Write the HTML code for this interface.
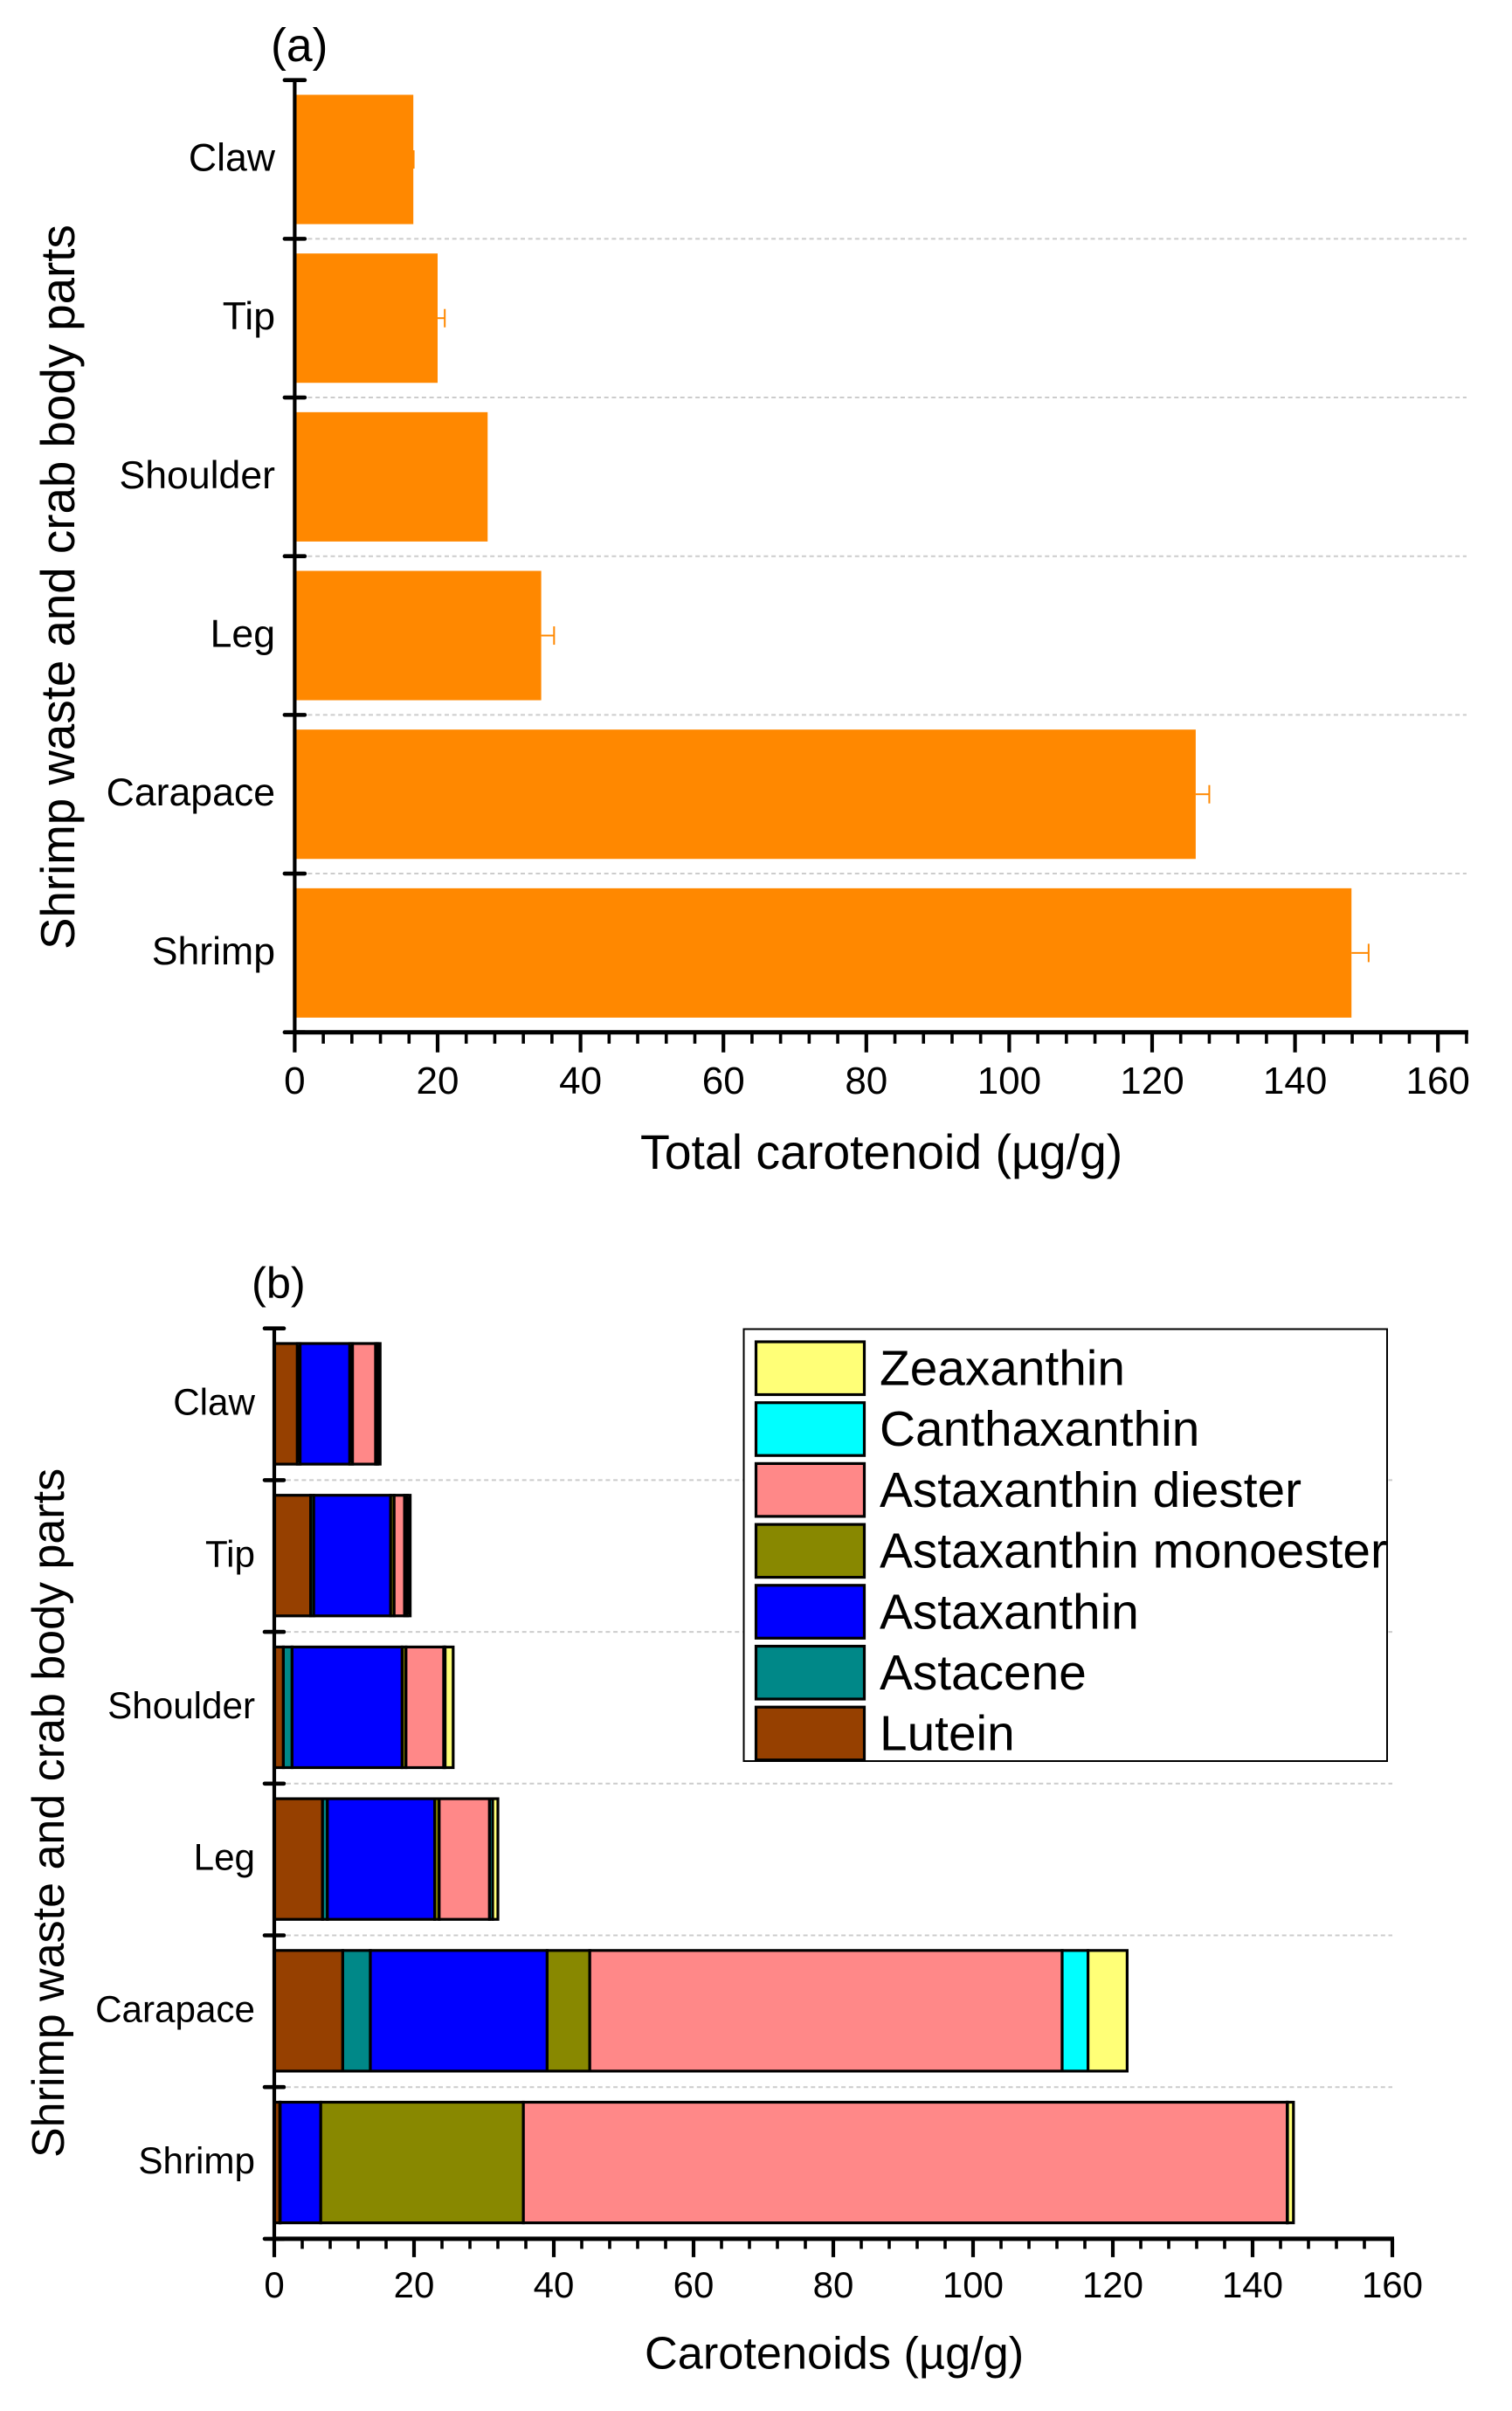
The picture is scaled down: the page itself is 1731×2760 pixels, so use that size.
<!DOCTYPE html>
<html lang="en">
<head>
<meta charset="utf-8">
<title>Carotenoids in shrimp waste and crab body parts</title>
<style>
html,body{margin:0;padding:0;background:#fff;}
svg{display:block;}
text{font-family:"Liberation Sans",Arial,sans-serif;fill:#000;}
</style>
</head>
<body>
<svg id="figure" xmlns="http://www.w3.org/2000/svg" width="1731" height="2760" viewBox="0 0 1731 2760"></svg>
<script>
// Shared data
const categories = ['Claw', 'Tip', 'Shoulder', 'Leg', 'Carapace', 'Shrimp'];
const xTickLabels = [0, 20, 40, 60, 80, 100, 120, 140, 160];

// Panel (a)
const totalCarotenoid = [16.6, 20.0, 27.0, 34.5, 126.1, 147.9];
const totalError = [0.05, 1.0, 0, 1.8, 1.9, 2.4];

// Panel (b) series, bottom of the stack first
const lutein = [3.3, 5.2, 1.3, 6.9, 9.8, 0.8];
const astacene = [0.4, 0.45, 1.25, 0.7, 3.95, 0.05];
const astaxanthin = [7.1, 11.0, 15.75, 15.35, 25.3, 5.8];
const monoester = [0.4, 0.5, 0.55, 0.65, 6.1, 29.0];
const diester = [3.3, 1.5, 5.4, 7.2, 67.6, 109.3];
const canthaxanthin = [0.3, 0.4, 0.2, 0.45, 3.7, 0.05];
const zeaxanthin = [0.35, 0.4, 1.15, 0.75, 5.6, 0.85];

const stackNames = ['Lutein', 'Astacene', 'Astaxanthin', 'Astaxanthin monoester', 'Astaxanthin diester', 'Canthaxanthin', 'Zeaxanthin'];
const stackSeries = [lutein, astacene, astaxanthin, monoester, diester, canthaxanthin, zeaxanthin];
const stackColors = ['#964000', '#008888', '#0000FF', '#888800', '#FF8888', '#00FFFF', '#FFFF77'];
const legendOrder = [6, 5, 4, 3, 2, 1, 0];

const svg = document.getElementById('figure');
const NS = 'http://www.w3.org/2000/svg';

function make(tag, props, parent, content) {
  const node = document.createElementNS(NS, tag);
  for (const k in props) node.setAttribute(k, props[k]);
  if (content !== undefined) node.textContent = content;
  (parent || svg).appendChild(node);
  return node;
}
function slug(s) { return String(s).toLowerCase().replace(/\s+/g, '-'); }

// Axis functions
const xA = v => 337.4 + v * 8.18;
const bandA = i => 91.7 + i * 181.67;
const xB = v => 314 + v * 8.0;
const bandB = i => 1520.7 + i * 173.7;

function drawAxes(o) {
  const g = make('g', {});
  
  

  // horizontal dotted grid lines at inner category ticks
  for (let i = 1; i < categories.length; i++) {
    const grid = make('line', {x1: o.x(0) + o.gridInset, x2: o.x(o.xEnd), y1: o.band(i), y2: o.band(i), stroke: '#cccccc', 'stroke-width': 2, 'stroke-dasharray': '5 3.7'}, o.gridLayer);
    
    
  }

  // y axis
  const yLine = make('line', {x1: o.x(0), x2: o.x(0), y1: o.band(0), y2: o.band(categories.length), stroke: '#000', 'stroke-width': 4.2}, g);
  
  

  for (let i = 0; i <= categories.length; i++) {
    const tick = make('line', {x1: o.x(0) - o.yTick, x2: o.x(0) + o.yTick, y1: o.band(i), y2: o.band(i), stroke: '#000', 'stroke-width': 4.6, 'stroke-linecap': 'round'}, g);
    
    
  }
  categories.forEach((c, i) => {
    const label = make('text', {x: o.yLabelX, y: (o.band(i) + o.band(i + 1)) / 2 + o.yLabelDy, 'text-anchor': 'end', 'font-size': o.tickFont}, g, c);
    
    
  });

  // x axis
  const axisY = o.band(categories.length);
  const xLine = make('line', {x1: o.x(0) - 2, x2: o.x(o.xEnd) + 2, y1: axisY, y2: axisY, stroke: '#000', 'stroke-width': 5}, g);
  
  

  for (let v = 0; v <= o.xEnd; v += 4) {
    const major = v % 20 === 0;
    const tick = make('line', {x1: o.x(v), x2: o.x(v), y1: axisY, y2: axisY + (major ? o.majorLen : o.minorLen), stroke: '#000', 'stroke-width': major ? 4.2 : 3.6}, g);
    
    
  }
  xTickLabels.forEach(v => {
    const label = make('text', {x: o.x(v), y: o.xLabelY, 'text-anchor': 'middle', 'font-size': o.xTickFont}, g, v);
    
    
  });

  // titles
  const xTitle = make('text', {x: o.xTitleX, y: o.xTitleY, 'font-size': o.xTitleFont}, g, o.xTitle);
  
  

  const yTitle = make('text', {transform: 'translate(' + o.yTitleX + ' ' + o.yTitleY + ') rotate(-90)', 'font-size': o.yTitleFont}, g, 'Shrimp waste and crab body parts');
  
  

  const tag = make('text', {x: o.tagX, y: o.tagY, 'font-size': o.tagFont}, g, o.tag);
  
  
}

// ---------- Panel (a) ----------
const gridA = make('g', {});



const barsA = make('g', {});



const stepA = bandA(1) - bandA(0);
categories.forEach((c, i) => {
  const h = stepA * 0.815;
  const cy = bandA(i) + stepA / 2;
  const bar = make('rect', {x: xA(0), y: cy - h / 2, width: xA(totalCarotenoid[i]) - xA(0), height: h, fill: '#FF8800'}, barsA);
  
  

  if (totalError[i] > 0) {
    const top = totalCarotenoid[i] + totalError[i];
    const stem = make('line', {x1: xA(totalCarotenoid[i]), x2: xA(top), y1: cy, y2: cy, stroke: '#FF8800', 'stroke-width': 2}, barsA);
    
    

    const cap = make('line', {x1: xA(top), x2: xA(top), y1: cy - 10.5, y2: cy + 10.5, stroke: '#FF8800', 'stroke-width': 2}, barsA);
    
    
  }
});

drawAxes({
  id: 'panel-a', x: xA, band: bandA, xEnd: 164, gridInset: 15, gridLayer: gridA, yTick: 11.5,
  yLabelX: 315, yLabelDy: 13, tickFont: 44.6, xTickFont: 44, majorLen: 23, minorLen: 13, xLabelY: 1252,
  xTitle: 'Total carotenoid (\u00B5g/g)', xTitleX: 733, xTitleY: 1338, xTitleFont: 55.4,
  yTitleX: 85, yTitleY: 1087, yTitleFont: 54.7,
  tag: '(a)', tagX: 310, tagY: 70, tagFont: 53.5
});

// ---------- Panel (b) ----------
const gridB = make('g', {});



const barsB = make('g', {});



const stepB = bandB(1) - bandB(0);
categories.forEach((c, i) => {
  const h = stepB * 0.795;
  const cy = bandB(i) + stepB / 2 - 0.5;
  let acc = 0;
  stackSeries.forEach((series, s) => {
    const seg = make('rect', {x: xB(acc), y: cy - h / 2, width: xB(acc + series[i]) - xB(acc), height: h, fill: stackColors[s], stroke: '#000', 'stroke-width': 3.2}, barsB);
    
    
    acc += series[i];
  });
});

drawAxes({
  id: 'panel-b', x: xB, band: bandB, xEnd: 160, gridInset: 14, gridLayer: gridB, yTick: 11,
  yLabelX: 292, yLabelDy: 12, tickFont: 42.2, xTickFont: 42, majorLen: 21, minorLen: 11.5, xLabelY: 2630,
  xTitle: 'Carotenoids (\u00B5g/g)', xTitleX: 738, xTitleY: 2711.5, xTitleFont: 52.3,
  yTitleX: 73, yTitleY: 2470, yTitleFont: 52,
  tag: '(b)', tagX: 288, tagY: 1486, tagFont: 50.5
});

// ---------- Legend ----------
const legend = make('g', {});



const legendBox = make('rect', {x: 851.5, y: 1521.5, width: 736.5, height: 494.5, fill: '#fff', stroke: '#000', 'stroke-width': 2}, legend);



legendOrder.forEach((s, row) => {
  const top = 1536 + row * 69.7;
  const swatch = make('rect', {x: 865.5, y: top, width: 124, height: 60.5, fill: stackColors[s], stroke: '#000', 'stroke-width': 3.2}, legend);
  
  

  const label = make('text', {x: 1007, y: 1585.5 + row * 69.7, 'font-size': 56.8}, legend, stackNames[s]);
  
  
});
</script>
</body>
</html>
